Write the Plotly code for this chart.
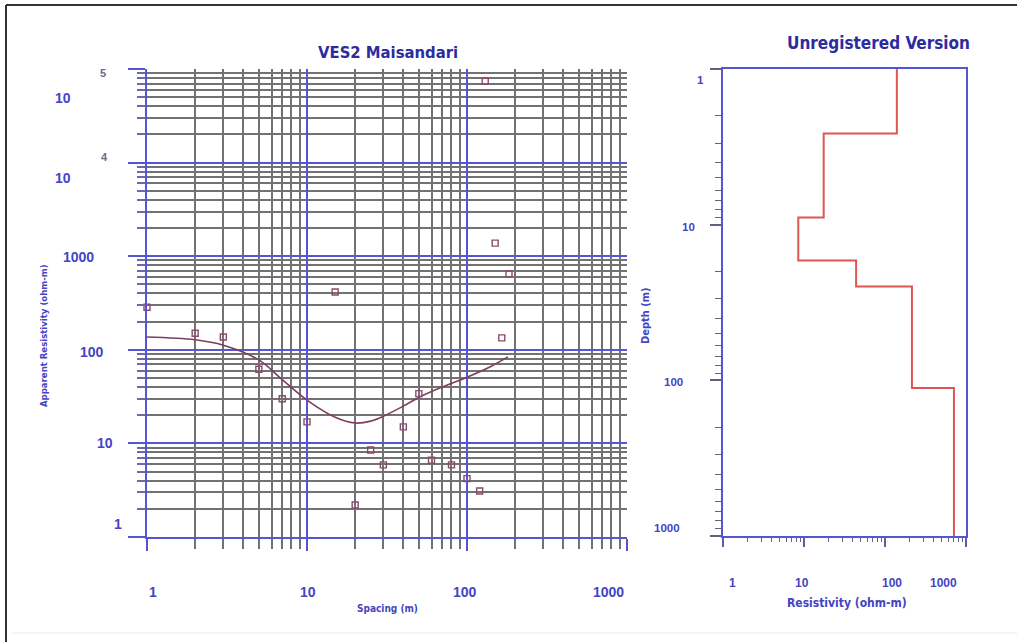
import math
import plotly.graph_objects as go

W, H = 1017, 642

# ---------------- data ----------------
# Field data (VES2 Maisandari): spacing (m), apparent resistivity (ohm-m)
spacing = [1, 2, 3, 5, 7, 10, 15, 20, 25, 30, 40, 50, 60, 80, 100, 120, 130, 150, 165, 183]
app_res = [285, 150, 137, 62, 30, 17, 415, 2.2, 8.5, 5.9, 15, 34, 6.6, 5.9, 4.2, 3.1, 74000, 1380, 134, 650]

# Fitted (calculated) curve
fit_spacing = [1, 2, 3, 5, 7, 10, 15, 20, 25, 30, 40, 50, 70, 100, 140, 180]
fit_res = [137, 128, 112, 78, 48, 29, 19, 16.5, 17.3, 19.5, 25, 31, 40, 51, 66, 84]

# Layered model
layer_res = [140, 17.5, 8.5, 44, 215, 710]
layer_bottom = [2.6, 9.0, 17.0, 25.0, 112.0]
depth_top, depth_max = 1, 1000

# Tick labels
left_x_labels = ["1", "10", "100", "1000"]
left_y_labels = ["1", "10", "100", "1000"]
left_y_pow_labels = [("10", "4"), ("10", "5")]
right_x_labels = ["1", "10", "100", "1000"]
right_y_labels = ["1", "10", "100", "1000"]

# ---------------- styling ----------------
BLUE_AX = "#5656d2"
GRID_MINOR = "#727272"
LABEL = "#4444c4"
TITLE = "#2c2ca0"
MARK = "#8a4a6e"
CURVE = "#7e3e62"
STEP = "#e05454"
FONT_T = "DejaVu Sans Condensed, Liberation Sans Narrow, Arial Narrow, Liberation Sans, Arial, sans-serif"
FONT_N = "Liberation Sans, Arial, sans-serif"


def px(x):
    return x / W


def py(y):
    return 1 - y / H


# model step line built from layers
step_x = list(layer_res) + [layer_res[-1]]
step_y = [depth_top] + list(layer_bottom) + [depth_max]

fig = go.Figure()

fig.add_trace(go.Scatter(
    x=fit_spacing, y=fit_res, mode="lines", line=dict(color=CURVE, width=1.6, shape="spline"),
    xaxis="x", yaxis="y", showlegend=False, hoverinfo="skip"))
fig.add_trace(go.Scatter(
    x=spacing, y=app_res, mode="markers", cliponaxis=False,
    marker=dict(symbol="square-open", size=6, color=MARK, line=dict(width=1.4, color=MARK)),
    xaxis="x", yaxis="y", showlegend=False))
fig.add_trace(go.Scatter(
    x=step_x, y=step_y, mode="lines", line=dict(color=STEP, width=2, shape="vh"),
    xaxis="x2", yaxis="y2", showlegend=False))

fig.update_layout(
    width=W, height=H, autosize=False,
    margin=dict(l=0, r=0, t=0, b=0),
    paper_bgcolor="white", plot_bgcolor="white",
    font=dict(family=FONT_T, color=LABEL),
    xaxis=dict(
        type="log", range=[0, 3], domain=[px(147), px(627)], anchor="y",
        dtick=1, showgrid=True, gridcolor=BLUE_AX, gridwidth=2,
        ticks="outside", ticklen=12, tickcolor=BLUE_AX, tickwidth=2,
        showticklabels=False, showline=True, linecolor=BLUE_AX, linewidth=2,
        zeroline=False,
        minor=dict(dtick="D1", showgrid=True, gridcolor=GRID_MINOR, gridwidth=1.5,
                   ticks="outside", ticklen=10, tickcolor=GRID_MINOR, tickwidth=1.5),
    ),
    yaxis=dict(
        type="log", range=[0, 5], domain=[py(537), py(69)], anchor="x",
        dtick=1, showgrid=True, gridcolor=BLUE_AX, gridwidth=2,
        ticks="outside", ticklen=17, tickcolor=BLUE_AX, tickwidth=2,
        showticklabels=False, showline=True, linecolor=BLUE_AX, linewidth=2,
        zeroline=False,
        minor=dict(dtick="D1", showgrid=True, gridcolor=GRID_MINOR, gridwidth=1.5,
                   ticks="outside", ticklen=8, tickcolor="#6a6aa8", tickwidth=1.5),
    ),
    xaxis2=dict(
        type="log", range=[0, 3], domain=[px(723), px(966)], anchor="y2",
        dtick=1, showgrid=False, ticks="outside", ticklen=9, tickcolor="#6060a0", tickwidth=1.5,
        showticklabels=False, showline=True, mirror=True, linecolor=BLUE_AX, linewidth=2,
        zeroline=False,
        minor=dict(dtick="D1", showgrid=False, ticks="outside", ticklen=4, tickcolor="#6060a0", tickwidth=1.2),
    ),
    yaxis2=dict(
        type="log", range=[3, 0], domain=[py(536), py(69)], anchor="x2",
        dtick=1, showgrid=False, ticks="outside", ticklen=11, tickcolor="#606080", tickwidth=1.5,
        showticklabels=False, showline=True, mirror=True, linecolor=BLUE_AX, linewidth=2,
        zeroline=False,
        minor=dict(dtick="D1", showgrid=False, ticks="outside", ticklen=6, tickcolor="#606080", tickwidth=1.2),
    ),
)

ann = []


def add_text(text, x, y, size, color=LABEL, angle=0, family=FONT_T):
    ann.append(dict(text="<b>" + text + "</b>", x=px(x), y=py(y), xref="paper", yref="paper",
                    showarrow=False, xanchor="center", yanchor="middle", textangle=angle,
                    font=dict(family=family, size=size, color=color)))


# titles
add_text("VES2 Maisandari", 388, 53, 16.5, TITLE)
add_text("Unregistered Version", 878, 43, 17, TITLE)

# left axis tick labels
for t, (x, y) in zip(left_x_labels, [(153, 592), (308, 592), (465, 592), (608, 592)]):
    add_text(t, x, y, 14, family=FONT_N)
for t, (x, y) in zip(left_y_labels, [(118, 524), (105, 443), (92, 352), (78, 257)]):
    add_text(t, x, y, 14, family=FONT_N)
for (base, ex), (bx, by, ex_x, ex_y) in zip(left_y_pow_labels, [(63, 178, 104, 157), (63, 98, 103, 73)]):
    add_text(base, bx, by, 14, family=FONT_N)
    add_text(ex, ex_x, ex_y, 11, "#6a6a8a", family=FONT_N)

add_text("Spacing (m)", 387, 608, 10)
add_text("Apparent Resistivity (ohm-m)", 44, 336, 9.5, angle=-90)

# right axis tick labels
for t, (x, y) in zip(right_x_labels, [(732, 583), (802, 583), (892, 583), (943, 583)]):
    add_text(t, x, y, 12, family=FONT_N)
for t, (x, y) in zip(right_y_labels, [(700, 80), (688, 227), (673, 382), (667, 528)]):
    add_text(t, x, y, 11.5, family=FONT_N)
add_text("Resistivity (ohm-m)", 847, 603, 12)
add_text("Depth (m)", 645, 316, 11, angle=-90)

fig.update_layout(annotations=ann)

# outer frame of the picture
fig.add_shape(type="line", xref="paper", yref="paper", x0=px(6), x1=1, y0=py(5), y1=py(5),
              line=dict(color="#333333", width=2))
fig.add_shape(type="line", xref="paper", yref="paper", x0=px(6), x1=px(6), y0=py(5), y1=0,
              line=dict(color="#333333", width=2))
fig.add_shape(type="line", xref="paper", yref="paper", x0=px(12), x1=1, y0=py(633), y1=py(633),
              line=dict(color="#e8e8e8", width=1))

fig.write_html("out.html", config={"displayModeBar": False},
               post_script="document.body.style.margin='0';document.body.style.overflow='hidden';")
